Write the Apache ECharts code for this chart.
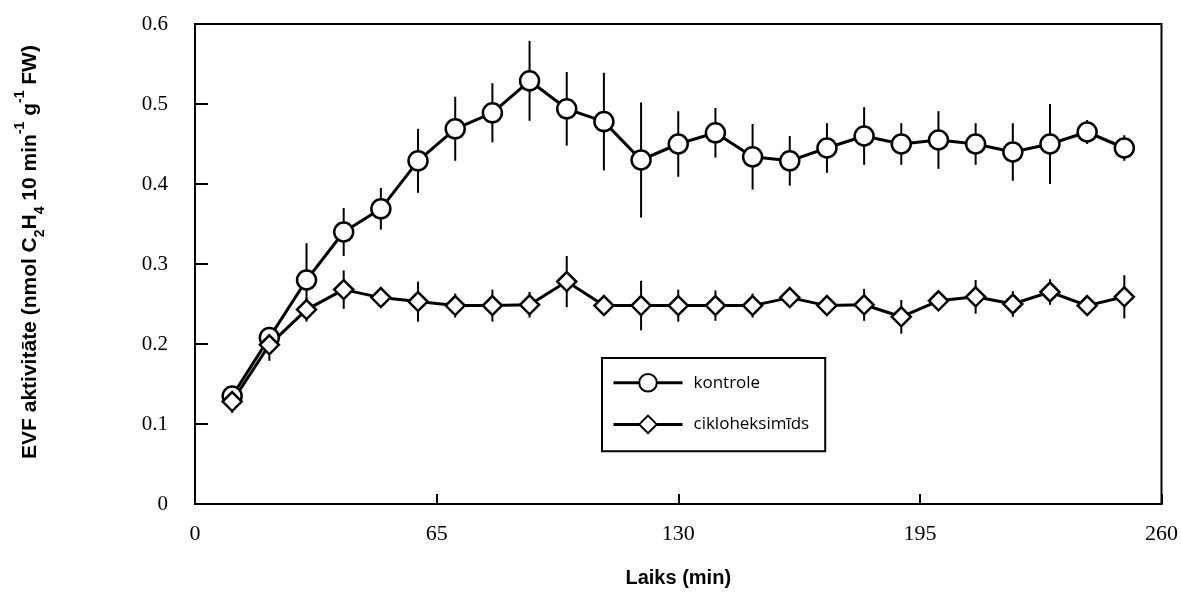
<!DOCTYPE html>
<html>
<head>
<meta charset="utf-8">
<script src="https://cdn.jsdelivr.net/npm/echarts@6/dist/echarts.min.js"></script>
<style>
	html, body { margin: 0; padding: 0; background: #fff; }
	#chart { width: 1181px; height: 593px; }
</style>
</head>
<body>
<div id="chart"></div>
<script>
// laiks (min)
const times = [10, 20, 30, 40, 50, 60, 70, 80, 90, 100, 110, 120, 130, 140, 150, 160, 170, 180, 190, 200, 210, 220, 230, 240, 250];
// kontrole: vidējais un kļūda
const kontrole = [0.135, 0.208, 0.28, 0.34, 0.369, 0.429, 0.469, 0.489, 0.529, 0.494, 0.478, 0.43, 0.45, 0.464, 0.434, 0.429, 0.445, 0.46, 0.45, 0.455, 0.45, 0.44, 0.45, 0.465, 0.445];
const kontroleErr = [0.008, 0.012, 0.046, 0.03, 0.026, 0.04, 0.04, 0.037, 0.05, 0.046, 0.061, 0.072, 0.041, 0.031, 0.041, 0.031, 0.031, 0.036, 0.026, 0.036, 0.026, 0.036, 0.05, 0.015, 0.016];
// cikloheksimīds
const ciklo = [0.128, 0.199, 0.243, 0.268, 0.258, 0.253, 0.248, 0.248, 0.249, 0.278, 0.248, 0.248, 0.248, 0.248, 0.248, 0.258, 0.248, 0.249, 0.234, 0.254, 0.259, 0.25, 0.265, 0.248, 0.259];
const cikloErr = [0.014, 0.02, 0.015, 0.024, 0.008, 0.025, 0.015, 0.02, 0.016, 0.032, 0.008, 0.031, 0.02, 0.019, 0.015, 0.006, 0.006, 0.02, 0.021, 0.006, 0.021, 0.016, 0.016, 0.006, 0.027];
const xTicks = [0, 65, 130, 195, 260];
const yTicks = [0, 0.1, 0.2, 0.3, 0.4, 0.5, 0.6];

const chart = echarts.init(document.getElementById('chart'));

function errSeries (means, errs) {
	return {
		type: 'custom',
		silent: true,
		z: 1,
		data: times.map((t, i) => [t, means[i] - errs[i], means[i] + errs[i]]),
		renderItem (params, api) {
			const lo = api.coord([api.value(0), api.value(1)]);
			const hi = api.coord([api.value(0), api.value(2)]);
			return {
				type: 'line',
				shape: { x1: lo[0], y1: lo[1], x2: hi[0], y2: hi[1] },
				style: { stroke: '#000', lineWidth: 2 }
			};
		}
	};
}

function lineSeries (name, means, symbol, size) {
	return {
		name: name,
		type: 'line',
		z: 3,
		data: times.map((t, i) => [t, means[i]]),
		symbol: symbol,
		symbolSize: size,
		showAllSymbol: true,
		lineStyle: { color: '#000', width: 3 },
		itemStyle: { color: '#fff', borderColor: '#000', borderWidth: 2.5 },
		emphasis: { disabled: true }
	};
}

chart.setOption({
	animation: false,
	grid: {
		left: 195, right: 18, top: 24, bottom: 89,
		show: true, borderColor: '#000', borderWidth: 2
	},
	legend: {
		data: ['kontrole', 'cikloheksimīds'],
		orient: 'vertical',
		left: 602,
		top: 358,
		itemWidth: 69,
		itemHeight: 22,
		itemGap: 22,
		padding: [15, 16, 17, 10],
		borderColor: '#000',
		borderWidth: 2,
		lineStyle: { width: 3, color: '#000' },
		itemStyle: { borderWidth: 2 },
		textStyle: { fontFamily: 'Open Sans', fontSize: 17, color: '#000', padding: [0, 0, 0, 6] }
	},
	xAxis: {
		type: 'value',
		min: 0,
		max: 260,
		interval: 65,
		name: 'Laiks (min)',
		nameLocation: 'middle',
		nameGap: 64,
		nameTextStyle: { fontFamily: 'Liberation Sans', fontWeight: 'bold', fontSize: 20, color: '#000' },
		axisLine: { lineStyle: { color: '#000', width: 2 } },
		axisTick: { inside: true, length: 10, lineStyle: { color: '#000', width: 2 } },
		axisLabel: {
			margin: 19, color: '#000', fontFamily: 'Liberation Serif', fontSize: 22,
			formatter: v => xTicks.includes(v) ? String(v) : ''
		},
		splitLine: { show: false }
	},
	yAxis: {
		type: 'value',
		min: 0,
		max: 0.6,
		interval: 0.1,
		name: '{m|EVF aktivitāte (nmol C}{s|2}{m|H}{s|4}{m| 10 min}{p|-1}{m| g}{p|-1}{m| FW)}',
		nameLocation: 'middle',
		nameGap: 148,
		nameTextStyle: {
			color: '#000',
			padding: [0, 0, 0, 24],
			rich: {
				m: { fontFamily: 'Liberation Sans', fontWeight: 'bold', fontSize: 21, lineHeight: 34, verticalAlign: 'middle' },
				s: { fontFamily: 'Liberation Sans', fontWeight: 'bold', fontSize: 14, lineHeight: 34, verticalAlign: 'bottom' },
				p: { fontFamily: 'Liberation Sans', fontWeight: 'bold', fontSize: 14, lineHeight: 34, verticalAlign: 'top' }
			}
		},
		axisLine: { lineStyle: { color: '#000', width: 2 } },
		axisTick: { inside: true, length: 13, lineStyle: { color: '#000', width: 2 } },
		axisLabel: {
			margin: 27, color: '#000', fontFamily: 'Liberation Serif', fontSize: 21,
			formatter: v => {
				const t = yTicks.find(y => Math.abs(y - v) < 1e-9);
				return t === undefined ? '' : (t === 0 ? '0' : t.toFixed(1));
			}
		},
		splitLine: { show: false }
	},
	series: [
		errSeries(kontrole, kontroleErr),
		errSeries(ciklo, cikloErr),
		lineSeries('kontrole', kontrole, 'circle', 19),
		lineSeries('cikloheksimīds', ciklo, 'diamond', 19)
	]
});
</script>
</body>
</html>
